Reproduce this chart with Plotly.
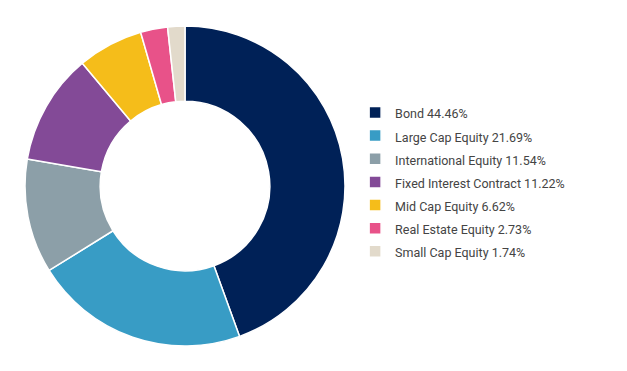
import plotly.graph_objects as go

categories = ["Bond", "Large Cap Equity", "International Equity", "Fixed Interest Contract",
              "Mid Cap Equity", "Real Estate Equity", "Small Cap Equity"]
values = [44.46, 21.69, 11.54, 11.22, 6.62, 2.73, 1.74]
colors = ["#002157", "#389CC5", "#8C9FA8", "#834A97", "#F5BD1A", "#E85289", "#E2DACB"]

labels = [f"<span style='font-size:12.5px'>{c} {v:.2f}%</span>" for c, v in zip(categories, values)]

fig = go.Figure(go.Pie(
    labels=labels,
    values=values,
    marker=dict(colors=colors, line=dict(color="white", width=1.5)),
    hole=0.53,
    sort=False,
    direction="clockwise",
    rotation=0,
    textinfo="none",
    domain=dict(x=[17/627, 337/627], y=[33/371, 353/371]),
))

fig.update_layout(
    width=627, height=371,
    margin=dict(l=0, r=0, t=0, b=0),
    paper_bgcolor="white",
    plot_bgcolor="white",
    font=dict(family="Roboto, sans-serif", color="#444444", size=13),
    legend=dict(x=0.5536, y=0.53, xanchor="left", yanchor="middle",
                font=dict(size=15.5, color="#444444"), itemwidth=30, tracegroupgap=0),
    showlegend=True,
)

fig.write_html("out.html")
